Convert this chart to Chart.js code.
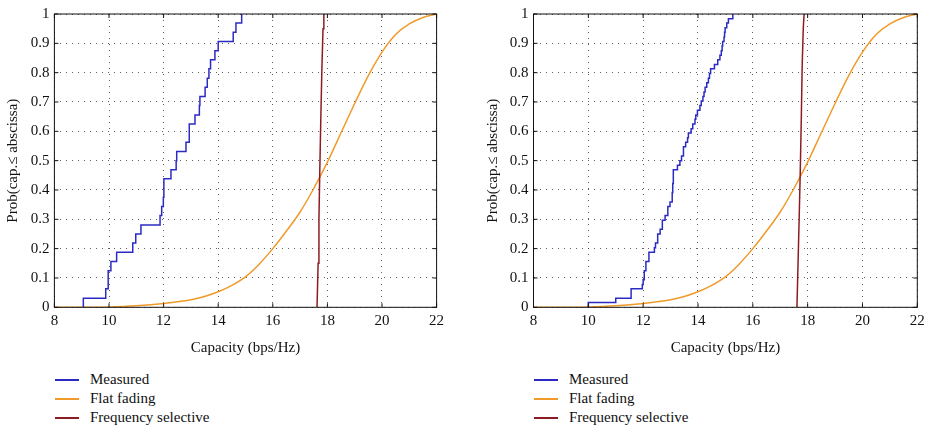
<!DOCTYPE html>
<html><head><meta charset="utf-8">
<script src="https://cdn.jsdelivr.net/npm/chart.js@4.4.0/dist/chart.umd.min.js"></script>
<style>
html,body{margin:0;padding:0;background:#fff;width:931px;height:433px;overflow:hidden;}
.wrap{position:absolute;top:0;}
canvas{display:block}
.legend{position:absolute;font-family:"Liberation Serif","DejaVu Serif",serif;font-size:15px;color:#111;}
.legend div{height:19px;line-height:19px;display:flex;align-items:center;white-space:nowrap}
.legend span.sw{display:inline-block;width:24px;height:2px;margin-right:11px}
</style></head><body>
<div class="wrap" style="left:0"><canvas id="c1" width="465" height="365"></canvas></div>
<div class="wrap" style="left:466px"><canvas id="c2" width="465" height="365"></canvas></div>
<div class="legend" id="lg1" style="left:55px;top:370px"></div>
<div class="legend" id="lg2" style="left:534px;top:370px"></div>
<script>
// ---- data ----
const seriesNames = ['Measured', 'Flat fading', 'Frequency selective'];
const xAxisTitle = 'Capacity (bps/Hz)';
const yAxisTitle = 'Prob(cap.\u2264 abscissa)';
const xTickValues = [8, 10, 12, 14, 16, 18, 20, 22];
const xTickLabels = ['8', '10', '12', '14', '16', '18', '20', '22'];
const yTickValues = [0, 0.1, 0.2, 0.3, 0.4, 0.5, 0.6, 0.7, 0.8, 0.9, 1];
const yTickLabels = ['0', '0.1', '0.2', '0.3', '0.4', '0.5', '0.6', '0.7', '0.8', '0.9', '1'];

// Left panel: measured CDF (step positions and levels)
const measuredLeftX = [9.06, 9.06, 9.88, 9.97, 10.07, 10.28, 10.87, 10.98, 11.17, 11.87, 11.93, 11.99, 12.01, 12.27, 12.46, 12.48, 12.82, 12.94, 13.15, 13.31, 13.33, 13.52, 13.60, 13.66, 13.72, 13.88, 14.00, 14.55, 14.65, 14.86];
const measuredLeftY = [0, 0.031, 0.063, 0.125, 0.156, 0.188, 0.219, 0.25, 0.281, 0.313, 0.344, 0.375, 0.438, 0.469, 0.5, 0.531, 0.563, 0.625, 0.656, 0.688, 0.719, 0.75, 0.781, 0.813, 0.844, 0.875, 0.906, 0.938, 0.969, 1.0];

// Right panel: measured CDF
const measuredRightX = [10.00, 10.00, 11.00, 11.56, 11.97, 12.00, 12.04, 12.10, 12.21, 12.41, 12.45, 12.53, 12.62, 12.70, 12.80, 12.90, 12.98, 13.06, 13.08, 13.10, 13.25, 13.34, 13.40, 13.47, 13.55, 13.62, 13.65, 13.75, 13.81, 13.89, 13.92, 13.98, 14.07, 14.12, 14.18, 14.22, 14.26, 14.32, 14.38, 14.42, 14.46, 14.60, 14.72, 14.80, 14.85, 14.88, 14.90, 14.95, 14.97, 14.99, 15.05, 15.11, 15.27];
const measuredRightY = [0, 0.016, 0.031, 0.063, 0.078, 0.094, 0.125, 0.156, 0.188, 0.203, 0.219, 0.25, 0.266, 0.297, 0.313, 0.344, 0.359, 0.391, 0.422, 0.469, 0.484, 0.5, 0.516, 0.547, 0.563, 0.578, 0.594, 0.609, 0.625, 0.641, 0.656, 0.672, 0.688, 0.703, 0.719, 0.734, 0.75, 0.766, 0.781, 0.797, 0.813, 0.828, 0.844, 0.859, 0.875, 0.891, 0.906, 0.922, 0.938, 0.953, 0.969, 0.984, 1.0];

// Flat fading (same in both panels)
const flatFadingX = [8, 9, 10, 11, 12, 13, 13.5, 14, 14.5, 15, 15.5, 16, 16.5, 17, 17.5, 18, 18.5, 19, 19.5, 20, 20.5, 21, 21.5, 22];
const flatFadingY = [0, 0, 0.001, 0.005, 0.013, 0.026, 0.037, 0.053, 0.075, 0.104, 0.147, 0.2, 0.26, 0.325, 0.405, 0.495, 0.595, 0.695, 0.79, 0.87, 0.93, 0.966, 0.988, 1.0];

// Frequency selective
const freqSelLeftX = [17.62, 17.66, 17.69, 17.72, 17.76, 17.80, 17.84, 17.87];
const freqSelLeftY = [0, 0.15, 0.3, 0.46, 0.65, 0.82, 0.95, 1.0];
const freqSelRightX = [17.61, 17.65, 17.69, 17.73, 17.77, 17.80, 17.84, 17.87];
const freqSelRightY = [0, 0.15, 0.3, 0.46, 0.65, 0.82, 0.95, 1.0];

const seriesColors = ['#2b2bc4', '#f09a2a', '#8c1c22'];

// ---- chart construction ----
Chart.defaults.font.family = "'Liberation Serif', 'DejaVu Serif', serif";
Chart.defaults.font.size = 15;
Chart.defaults.color = '#111';

const pts = (xs, ys) => xs.map((v, i) => ({x: v, y: ys[i]}));

const framePlugin = {
  id: 'frame',
  afterDraw(chart) {
    const {ctx, chartArea: a, scales} = chart;
    ctx.save();
    ctx.setLineDash([]);
    ctx.strokeStyle = '#111';
    ctx.lineWidth = 1;
    ctx.strokeRect(a.left, a.top, a.right - a.left, a.bottom - a.top);
    ctx.beginPath();
    xTickValues.forEach(v => {
      const px = scales.x.getPixelForValue(v);
      ctx.moveTo(px, a.bottom); ctx.lineTo(px, a.bottom - 4);
      ctx.moveTo(px, a.top); ctx.lineTo(px, a.top + 4);
    });
    yTickValues.forEach(v => {
      const py = scales.y.getPixelForValue(v);
      ctx.moveTo(a.left, py); ctx.lineTo(a.left + 4, py);
      ctx.moveTo(a.right, py); ctx.lineTo(a.right - 4, py);
    });
    ctx.stroke();
    ctx.restore();
  }
};

function makeChart(id, legendId, measured, freq, pad, yWidth) {
  const datasets = [
    {label: seriesNames[0], data: measured, borderColor: seriesColors[0], stepped: 'before', borderWidth: 1.5, order: 0},
    {label: seriesNames[1], data: pts(flatFadingX, flatFadingY), borderColor: seriesColors[1], cubicInterpolationMode: 'monotone', borderWidth: 1.5, order: 2},
    {label: seriesNames[2], data: freq, borderColor: seriesColors[2], borderWidth: 1.5, order: 1}
  ];
  const chart = new Chart(document.getElementById(id), {
    type: 'line',
    data: {datasets},
    options: {
      responsive: false,
      animation: false,
      events: [],
      parsing: false,
      elements: {point: {radius: 0}, line: {tension: 0, fill: false}},
      layout: {padding: pad},
      plugins: {legend: {display: false}, tooltip: {enabled: false}},
      scales: {
        x: {
          type: 'linear', min: 8, max: 22,
          afterBuildTicks: s => { s.ticks = xTickValues.map(v => ({value: v})); },
          afterFit: s => { s.height = 57.7; },
          ticks: {padding: 5, maxRotation: 0, autoSkip: false,
            callback: (v, i) => xTickLabels[xTickValues.indexOf(v)]},
          grid: {color: 'rgba(40,40,40,0.75)', lineWidth: 1, drawTicks: false},
          border: {display: false, dash: [1, 5]},
          title: {display: true, text: xAxisTitle, padding: {top: 0, bottom: 8}}
        },
        y: {
          type: 'linear', min: 0, max: 1,
          afterBuildTicks: s => { s.ticks = yTickValues.map(v => ({value: v})); },
          afterFit: s => { s.width = yWidth; },
          ticks: {padding: 5, autoSkip: false,
            callback: (v, i) => yTickLabels[i]},
          grid: {color: 'rgba(40,40,40,0.75)', lineWidth: 1, drawTicks: false},
          border: {display: false, dash: [1, 5]},
          title: {display: true, text: yAxisTitle, padding: {top: 4.5, bottom: 0}}
        }
      }
    },
    plugins: [framePlugin]
  });
  const lg = document.getElementById(legendId);
  datasets.forEach(d => {
    const row = document.createElement('div');
    const sw = document.createElement('span');
    sw.className = 'sw';
    sw.style.background = d.borderColor;
    row.appendChild(sw);
    row.appendChild(document.createTextNode(d.label));
    lg.appendChild(row);
  });
  return chart;
}

makeChart('c1', 'lg1', pts(measuredLeftX, measuredLeftY), pts(freqSelLeftX, freqSelLeftY),
  {left: 0, right: 28.4, top: 11.7, bottom: 0}, 54.4);
makeChart('c2', 'lg2', pts(measuredRightX, measuredRightY), pts(freqSelRightX, freqSelRightY),
  {left: 14, right: 13.7, top: 11.7, bottom: 0}, 53.5);
</script>
</body></html>
